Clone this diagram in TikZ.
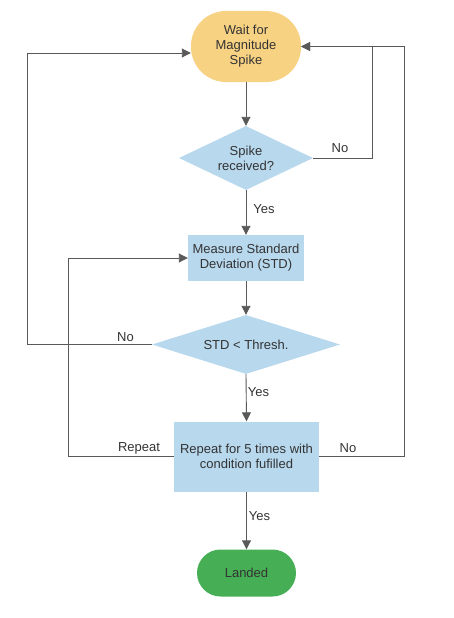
\documentclass[tikz,border=0pt]{standalone}
\usepackage{fontspec}
\setmainfont{Liberation Sans}
\usetikzlibrary{shapes.geometric,arrows.meta}
\definecolor{waitfill}{HTML}{F8D283}
\definecolor{boxfill}{HTML}{B8D8EE}
\definecolor{landfill}{HTML}{46AF55}
\definecolor{linecol}{HTML}{595959}
\definecolor{txtcol}{HTML}{333333}
\begin{document}
\begin{tikzpicture}[x=1pt,y=-1pt,
  every node/.style={font=\fontsize{13}{15}\selectfont, text=txtcol, align=center},
  termbox/.style={draw=none, inner sep=0pt},
  procbox/.style={fill=boxfill, draw=none, inner sep=0pt},
  decbox/.style={diamond, fill=boxfill, draw=none, inner sep=0pt},
  arr/.style={draw=linecol, line width=0.9pt, -{Triangle[length=9pt,width=9pt]}},
  lbl/.style={inner sep=0pt}
]
\useasboundingbox (0,0) rectangle (453,618);
\node[termbox, fill=waitfill, rounded corners=35pt, minimum width=110pt, minimum height=71pt] (wait) at (246,46.5) {Wait for\\Magnitude\\Spike};
\node[decbox, minimum width=134pt, minimum height=64pt, aspect=2.1] (spike) at (246,158) {Spike\\received?};
\node[procbox, minimum width=116pt, minimum height=46pt] (meas) at (246,258) {Measure Standard\\Deviation (STD)};
\node[decbox, minimum width=188pt, minimum height=59pt, aspect=3.2] (std) at (246,344.5) {STD < Thresh.};
\node[procbox, minimum width=145pt, minimum height=70pt] (rep) at (246.5,456.5) {Repeat for 5 times with\\condition fufilled};
\node[termbox, fill=landfill, rounded corners=23.5pt, minimum width=99pt, minimum height=47pt] (land) at (246.5,573) {Landed};

\draw[arr] (wait.south) -- (spike.north);
\draw[arr] (spike.south) -- (meas.north);
\draw[arr] (meas.south) -- (std.north);
\draw[arr] (std.south) -- (rep.north);
\draw[arr] (rep.south -| land.north) -- (land.north);

\draw[arr] (spike.east) -- ++(59,0) |- (wait.east);
\draw[arr] (rep.east) -- ++(85,0) |- (wait.east);
\draw[arr] (std.west) -- ++(-124,0) |- ([yshift=-6.5pt]wait.west);
\draw[arr] (rep.west) -- ++(-105,0) |- (meas.west);

\node[lbl] (lno1) at (340,148) {No};
\node[lbl] (lyes1) at (264,209.5) {Yes};
\node[lbl] (lno2) at (125.5,337) {No};
\node[lbl] (lyes2) at (258.5,392) {Yes};
\node[lbl] (lrep) at (139,448) {Repeat};
\node[lbl] (lno3) at (348,448) {No};
\node[lbl] (lyes3) at (259.5,516.5) {Yes};
\end{tikzpicture}
\end{document}
